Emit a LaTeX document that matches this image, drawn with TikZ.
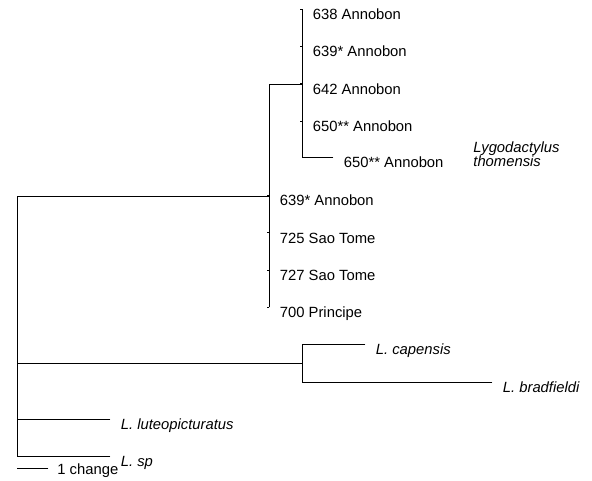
\documentclass[tikz,border=0pt]{standalone}
\usepackage{fontspec}
\setmainfont{Liberation Sans}
\begin{document}
\begin{tikzpicture}[x=1pt,y=-1pt,line width=0.8pt,line cap=rect,font=\fontsize{14.8}{14}\selectfont]
	\tikzset{tip/.style={anchor=base west,inner sep=0pt,xshift=10.5pt,yshift=-10.5pt},
		species/.style={tip,font=\fontsize{14.8}{14}\selectfont\itshape}}
	\useasboundingbox (0,0) rectangle (592,480);
	% internal nodes
	\coordinate (root) at (17,196);
	\coordinate (grpA) at (269,196);
	\coordinate (grpB) at (302,84);
	\coordinate (grpC) at (302,363);
	% inner Annobon group
	\coordinate (t638) at (302,9);
	\coordinate (t650b) at (333,157);
	\foreach \i/\lab in {0/638 Annobon,1/639* Annobon,2/642 Annobon,3/650** Annobon}
	{
		\coordinate (b\i) at (302,{9+37.25*\i});
		\draw[line width=0.5pt] (b\i) -- ++(-2,0);
		\node[tip] (lb\i) at (b\i) {\lab};
	}
	\node[tip] (lb650) at (t650b) {650** Annobon};
	\draw (t638) -- (grpB |- t650b) -- (t650b);
	\draw (grpA |- grpB) -- (grpB);
	% outer group
	\coordinate (t700) at (269,307);
	\foreach \i/\lab in {5/639* Annobon,6/725 Sao Tome,7/727 Sao Tome,8/700 Principe}
	{
		\coordinate (a\i) at (269,{9+37.25*\i});
		\draw[line width=0.5pt] (a\i) -- ++(-2,0);
		\node[tip] (la\i) at (a\i) {\lab};
	}
	\draw (grpA |- grpB) -- (t700);
	\node[anchor=base west,inner sep=0pt,font=\fontsize{14.8}{14}\selectfont\itshape,align=left] (thom) at (473,166) {Lygodactylus\\thomensis};
	% capensis group
	\coordinate (tcap) at (365,344);
	\coordinate (tbra) at (492,382);
	\draw (tcap) -- (grpC |- tcap) -- (grpC |- tbra) -- (tbra);
	\node[species] (lcap) at (tcap) {L. capensis};
	\node[species] (lbra) at (tbra) {L. bradfieldi};
	% root
	\coordinate (tlut) at (110,419);
	\coordinate (tsp) at (110,456);
	\draw (grpA) -- (root) -- (root |- tsp) -- (tsp);
	\draw (root |- grpC) -- (grpC);
	\draw (root |- tlut) -- (tlut);
	\node[species] (llut) at (tlut) {L. luteopicturatus};
	\node[species] (lsp) at (tsp) {L. sp};
	% scale bar
	\coordinate (s0) at (17,468);
	\coordinate (s1) at (48,468);
	\draw (s0) -- (s1);
	\node[anchor=base west,inner sep=0pt] (scl) at (57,474) {1 change};
\end{tikzpicture}
\end{document}
